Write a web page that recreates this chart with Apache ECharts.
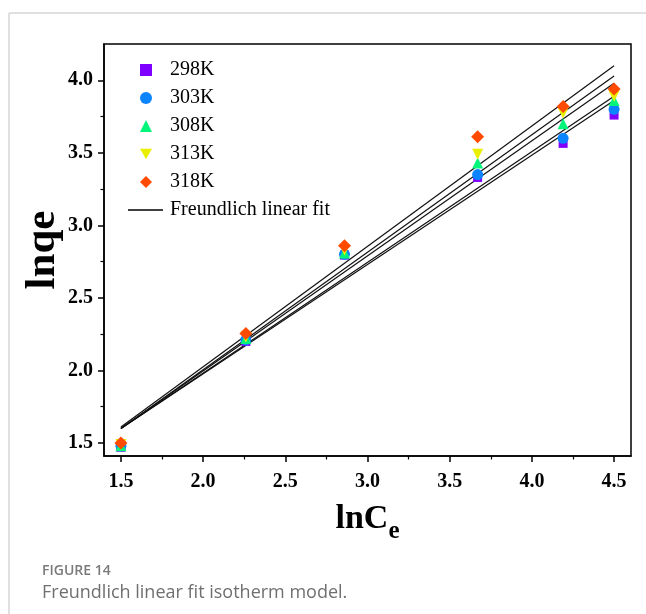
<!DOCTYPE html>
<html>
<head>
<meta charset="utf-8">
<script src="https://cdn.jsdelivr.net/npm/echarts@6/dist/echarts.min.js"></script>
<style>
html,body{margin:0;padding:0;background:#fff;}
#c{width:646px;height:614px;}
</style>
</head>
<body>
<div id="c"></div>
<script>
// ---- data ----
var lnCe = [1.50, 2.26, 2.86, 3.67, 4.19, 4.50];
var seriesNames = ['298K', '303K', '308K', '313K', '318K'];
var lnqe298 = [1.47, 2.20, 2.795, 3.33, 3.565, 3.76];
var lnqe303 = [1.48, 2.21, 2.80, 3.35, 3.60, 3.80];
var lnqe308 = [1.48, 2.22, 2.81, 3.43, 3.70, 3.86];
var lnqe313 = [1.49, 2.23, 2.83, 3.49, 3.775, 3.89];
var lnqe318 = [1.50, 2.255, 2.86, 3.61, 3.82, 3.94];
// Freundlich linear fit lines (end points)
var fitX = [1.5, 4.5];
var fitStart = [1.60, 1.60, 1.60, 1.60, 1.61];
var fitEnd = [3.86, 3.89, 3.98, 4.03, 4.10];
var xMajorTicks = [1.5, 2.0, 2.5, 3.0, 3.5, 4.0, 4.5];
var xMinorTicks = [1.75, 2.25, 2.75, 3.25, 3.75, 4.25];
var yMajorTicks = [1.5, 2.0, 2.5, 3.0, 3.5, 4.0];
var yMinorTicks = [1.75, 2.25, 2.75, 3.25, 3.75];

var allY = [lnqe298, lnqe303, lnqe308, lnqe313, lnqe318];
var colors = ['#7F00FF', '#0A84FF', '#00F57A', '#E8F000', '#FF4A00'];
var symbols = ['rect', 'circle', 'triangle', 'path://M0,0L2,0L1,1.732Z', 'diamond'];
var sizes = [9, 11, 11, 11, 13];

var serif = '"Liberation Serif", "Times New Roman", serif';

var series = [];
for (var i = 0; i < 5; i++) {
  series.push({
    name: 'Freundlich linear fit',
    type: 'line',
    xAxisIndex: 0, yAxisIndex: 0,
    data: [[fitX[0], fitStart[i]], [fitX[1], fitEnd[i]]],
    symbol: 'none',
    lineStyle: {color: '#111', width: 1.2},
    itemStyle: {color: '#111'},
    silent: true, z: 2, animation: false
  });
}
for (var k = 0; k < 5; k++) {
  series.push({
    name: seriesNames[k],
    type: 'scatter',
    xAxisIndex: 0, yAxisIndex: 0,
    data: lnCe.map(function (x, j) { return [x, allY[k][j]]; }),
    symbol: symbols[k],
    symbolSize: sizes[k],
    itemStyle: {color: colors[k], opacity: 1},
    z: 3 + k, animation: false
  });
}

var chart = echarts.init(document.getElementById('c'), null, {renderer: 'canvas'});
var tickLabel = {color: '#000', fontFamily: serif, fontWeight: 'bold', fontSize: 20};
var legendScatterData = seriesNames.map(function (n, k) {
  return {name: n, icon: symbols[k]};
});
chart.setOption({
  animation: false,
  backgroundColor: '#fff',
  grid: {left: 104, right: 15, top: 44, bottom: 158, show: true, borderColor: '#000', borderWidth: 1.5, backgroundColor: 'transparent'},
  xAxis: [{
    type: 'value', min: 1.397, max: 4.603, gridIndex: 0,
    name: '{a|lnC}{b|e}', nameLocation: 'middle', nameGap: 38, nameMoveOverlap: false,
    nameTextStyle: {rich: {
      a: {fontFamily: serif, fontWeight: 'bold', fontSize: 34, lineHeight: 44, color: '#000'},
      b: {fontFamily: serif, fontWeight: 'bold', fontSize: 25, lineHeight: 50, verticalAlign: 'bottom', color: '#000'}
    }},
    axisLine: {show: true, lineStyle: {color: '#000', width: 1.5}},
    axisTick: {show: true, inside: false, length: 6, lineStyle: {color: '#000', width: 1.5}, customValues: xMajorTicks},
    axisLabel: Object.assign({margin: 16, customValues: xMajorTicks, formatter: function (v) { return v.toFixed(1); }}, tickLabel),
    splitLine: {show: false}
  }, {
    type: 'value', min: 1.397, max: 4.603, gridIndex: 0, position: 'bottom',
    axisLine: {show: false},
    axisTick: {show: true, inside: false, length: 3.5, lineStyle: {color: '#000', width: 1.2}, customValues: xMinorTicks},
    axisLabel: {show: false},
    splitLine: {show: false}
  }],
  yAxis: [{
    type: 'value', min: 1.41, max: 4.25, gridIndex: 0,
    name: 'lnqe', nameLocation: 'middle', nameGap: 40, nameRotate: 90, nameMoveOverlap: false,
    nameTextStyle: {fontFamily: serif, fontWeight: 'bold', fontSize: 43, color: '#000'},
    axisLine: {show: true, lineStyle: {color: '#000', width: 1.5}},
    axisTick: {show: true, inside: false, length: 6, lineStyle: {color: '#000', width: 1.5}, customValues: yMajorTicks},
    axisLabel: Object.assign({margin: 11, customValues: yMajorTicks, formatter: function (v) { return v.toFixed(1); }}, tickLabel),
    splitLine: {show: false}
  }, {
    type: 'value', min: 1.41, max: 4.25, gridIndex: 0, position: 'left',
    axisLine: {show: false},
    axisTick: {show: true, inside: false, length: 3.5, lineStyle: {color: '#000', width: 1.2}, customValues: yMinorTicks},
    axisLabel: {show: false},
    splitLine: {show: false}
  }],
  legend: [{
    orient: 'vertical', left: 135, top: 55, itemGap: 8,
    itemWidth: 12, itemHeight: 12,
    data: legendScatterData,
    textStyle: {fontFamily: serif, fontSize: 20, color: '#000', lineHeight: 20, padding: [0, 0, 0, 13]}
  }, {
    orient: 'vertical', left: 123, top: 195,
    itemWidth: 35, itemHeight: 1.5,
    data: [{name: 'Freundlich linear fit', icon: 'rect', itemStyle: {color: '#000'}}],
    textStyle: {fontFamily: serif, fontSize: 20, color: '#000', lineHeight: 20, padding: [0, 0, 0, 2]}
  }],
  series: series,
  graphic: [
    {type: 'line', shape: {x1: 9, y1: 13, x2: 646, y2: 13}, style: {stroke: '#d6d6d6', lineWidth: 1.5}, silent: true},
    {type: 'line', shape: {x1: 9, y1: 13, x2: 9, y2: 614}, style: {stroke: '#d6d6d6', lineWidth: 1.5}, silent: true},
    {type: 'text', left: 42, top: 564, style: {text: 'FIGURE 14', fill: '#7a7a7a', font: '600 14px "Open Sans", "Noto Sans", sans-serif'}},
    {type: 'text', left: 42, top: 584, style: {text: 'Freundlich linear fit isotherm model.', fill: '#6f6f6f', font: '18px "Open Sans", "Noto Sans", sans-serif'}}
  ]
});
</script>
</body>
</html>
